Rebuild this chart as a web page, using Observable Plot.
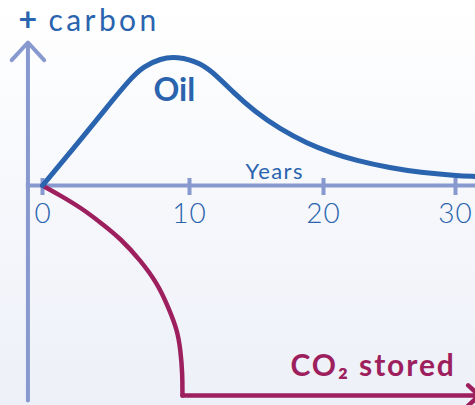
<!DOCTYPE html>
<html><head><meta charset="utf-8">
<script src="https://cdn.jsdelivr.net/npm/d3@7"></script>
<script src="https://cdn.jsdelivr.net/npm/@observablehq/plot@0.6"></script>
<style>
html,body{margin:0;padding:0;}
body{width:475px;height:405px;background:linear-gradient(#ffffff,#edf0f8);overflow:hidden;}
svg{display:block;background:transparent !important;}
</style></head><body><div id="chart"></div>
<script>
const tickYears = [0, 10, 20, 30];
const tickLabels = ["0", "10", "20", "30"];
const oilYears = [0, 2.11, 4.42, 5.99, 6.87, 8.03, 9.12, 10.82, 12.09, 13.28, 14.78, 16.79, 18.81, 20.53, 22.42, 25.08, 27.35, 30, 31.52];
const oilCarbon = [0, 37, 79, 107, 119, 127, 129, 123, 109, 93, 75, 56, 42, 33, 25, 17.5, 13, 10, 9];
const co2Years = [0, 1.22, 2.59, 3.95, 5.31, 6.67, 7.82, 8.57, 9.18, 9.39, 9.52, 9.52];
const co2Carbon = [0, -10, -22, -37, -53, -75, -98, -122, -145, -165, -188, -210];
const co2Tail = [{x1: 9.52, y1: -210, x2: 31.8, y2: -210}];
const yAxisLine = [{x1: -0.99, y1: -215, x2: -0.99, y2: 143}];

const blue = "#2a64ae", axisCol = "#8799cf", red = "#9d1f5e";
const font = "Lato, 'Open Sans', sans-serif";

const oil = oilYears.map((x, i) => ({x, y: oilCarbon[i]}));
const co2 = co2Years.map((x, i) => ({x, y: co2Carbon[i]}));
const ticks = tickYears.map((x, i) => ({x, label: tickLabels[i]}));

// the hand-drawn tick spacing is slightly uneven: piecewise-linear warp of years
const warp = d3.scaleLinear().domain([0, 10, 20, 30]).range([42, 189, 323, 455]);

const chart = Plot.plot({
  width: 475, height: 405,
  marginTop: 0, marginRight: 0, marginBottom: 0, marginLeft: 0,
  style: {background: "transparent", overflow: "visible"},
  x: {type: "linear", transform: warp, domain: [0, 475], range: [0, 475], axis: null},
  y: {domain: [-220, 185], range: [405, 0], axis: null},
  marks: [
    Plot.arrow(yAxisLine, {x1: "x1", y1: "y1", x2: "x2", y2: "y2", stroke: axisCol, strokeWidth: 4, headLength: 9, headAngle: 85}),
    Plot.ruleY([0], {x1: -1.1, x2: 31.6, stroke: axisCol, strokeWidth: 4}),
    Plot.ruleX(ticks, {x: "x", y1: -10, y2: 7, stroke: axisCol, strokeWidth: 4}),
    Plot.text(ticks, {x: "x", y: -29, text: "label", fill: blue, fontSize: 28, fontFamily: font, fontWeight: 300}),
    Plot.text(["Years"], {x: 14.18, y: 7, text: d => d, textAnchor: "start", lineAnchor: "bottom", fill: blue, fontSize: 22, fontFamily: font}),
    Plot.line(co2, {x: "x", y: "y", stroke: red, strokeWidth: 4.5, curve: "basis"}),
    Plot.arrow(co2Tail, {x1: "x1", y1: "y1", x2: "x2", y2: "y2", stroke: red, strokeWidth: 4.5, headLength: 5, headAngle: 85}),
    Plot.line(oil, {x: "x", y: "y", stroke: blue, strokeWidth: 5, curve: "basis"}),
    Plot.text(["Oil"], {x: 7.55, y: 85, text: d => d, textAnchor: "start", lineAnchor: "bottom", fill: blue, fontSize: 32, fontWeight: "bold", fontFamily: font}),
    Plot.text(["CO₂ stored"], {x: 17.54, y: -190, text: d => d, textAnchor: "start", lineAnchor: "bottom", fill: red, fontSize: 30, fontWeight: "bold", fontFamily: font}),
    Plot.text(["+"], {x: -1.0, y: 165, text: d => d, fill: blue, fontSize: 32, fontWeight: "bold", fontFamily: font}),
    Plot.text(["carbon"], {x: 0.41, y: 155, text: d => d, textAnchor: "start", lineAnchor: "bottom", fill: blue, fontSize: 30, fontFamily: font})
  ]
});
const spacing = {"carbon": 3.4, "Years": 1.4, "CO₂ stored": 1.9, "10": 1, "20": 1, "30": 1};
d3.select(chart).selectAll("text").each(function() {
  const s = spacing[this.textContent];
  if (s) this.setAttribute("letter-spacing", s);
});
document.getElementById("chart").appendChild(chart);
</script>
</body></html>
